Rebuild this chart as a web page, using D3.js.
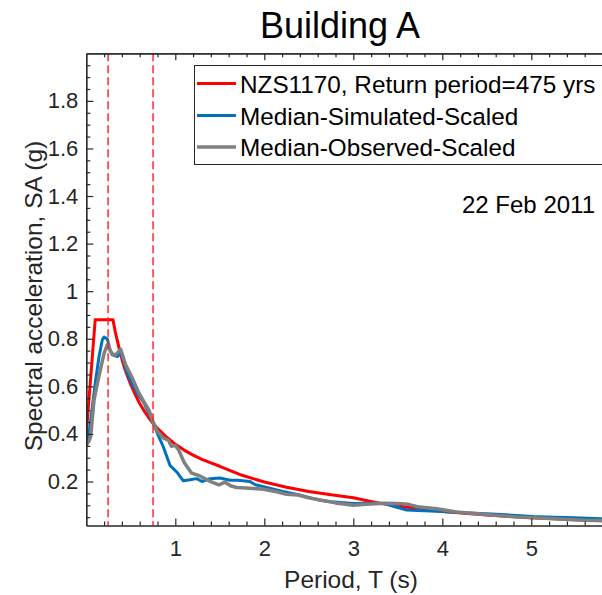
<!DOCTYPE html>
<html>
<head>
<meta charset="utf-8">
<script src="https://cdn.jsdelivr.net/npm/d3@7"></script>
<style>
  html, body { margin: 0; padding: 0; background: #fff; }
  svg { display: block; font-family: "Liberation Sans", Arial, Helvetica, sans-serif; }
</style>
</head>
<body>
<svg id="chart" width="602" height="595"></svg>
<script>
// ---- Data -------------------------------------------------------------
const chartTitle = "Building A";
const eventLabel = "22 Feb 2011";
const xLabel = "Period, T (s)";
const yLabel = "Spectral acceleration, SA (g)";

const xTicks = [1, 2, 3, 4, 5];
const yTicks = [0.2, 0.4, 0.6, 0.8, 1, 1.2, 1.4, 1.6, 1.8];

// Building fundamental periods (dashed markers)
const buildingPeriods = [0.245, 0.75];

// NZS1170 design spectrum, return period 475 yrs
const nzsPeriod = [0, 0.1, 0.3, 0.325, 0.35, 0.375, 0.4, 0.425, 0.45, 0.5, 0.55, 0.6, 0.65, 0.7, 0.75, 0.8, 0.9, 1.0, 1.1, 1.2, 1.3, 1.4, 1.5, 1.75, 2.0, 2.25, 2.5, 2.75, 3.0, 3.25, 3.5, 3.75, 4.0, 4.5, 5.0, 5.5, 6.0];
const nzsSA     = [0.40, 0.88, 0.88, 0.83, 0.79, 0.75, 0.715, 0.683, 0.655, 0.607, 0.565, 0.528, 0.497, 0.469, 0.445, 0.423, 0.387, 0.357, 0.332, 0.311, 0.293, 0.278, 0.264, 0.226, 0.198, 0.176, 0.158, 0.144, 0.132, 0.112, 0.097, 0.085, 0.074, 0.059, 0.048, 0.039, 0.033];

// Median of simulated records, scaled
const simPeriod = [0, 0.03, 0.068, 0.105, 0.143, 0.18, 0.2, 0.236, 0.262, 0.292, 0.348, 0.386, 0.424, 0.454, 0.528, 0.584, 0.64, 0.716, 0.746, 0.791, 0.865, 0.94, 1.016, 1.09, 1.165, 1.24, 1.3, 1.39, 1.5, 1.615, 1.7, 1.84, 1.9, 2.06, 2.21, 2.37, 2.51, 2.63, 2.75, 3.0, 3.15, 3.34, 3.45, 3.6, 3.79, 4.01, 4.3, 4.61, 5.02, 5.25, 5.4, 5.79, 6.0];
const simSA     = [0.353, 0.40, 0.514, 0.627, 0.725, 0.796, 0.807, 0.799, 0.76, 0.732, 0.725, 0.74, 0.704, 0.662, 0.60, 0.564, 0.535, 0.479, 0.451, 0.409, 0.346, 0.268, 0.24, 0.203, 0.207, 0.212, 0.20, 0.212, 0.215, 0.205, 0.205, 0.20, 0.186, 0.172, 0.158, 0.145, 0.132, 0.121, 0.115, 0.107, 0.109, 0.108, 0.096, 0.08, 0.077, 0.074, 0.068, 0.062, 0.053, 0.05, 0.049, 0.043, 0.041];

// Median of observed records, scaled
const obsPeriod = [0, 0.03, 0.049, 0.087, 0.143, 0.199, 0.236, 0.274, 0.30, 0.33, 0.36, 0.386, 0.443, 0.517, 0.592, 0.648, 0.704, 0.742, 0.80, 0.873, 0.921, 0.955, 1.0, 1.034, 1.1, 1.184, 1.259, 1.315, 1.405, 1.49, 1.558, 1.62, 1.69, 1.84, 1.99, 2.14, 2.25, 2.38, 2.51, 2.66, 2.8, 3.0, 3.15, 3.34, 3.5, 3.62, 3.72, 3.94, 4.16, 4.46, 4.84, 5.21, 5.59, 6.0];
const obsSA     = [0.353, 0.37, 0.39, 0.543, 0.645, 0.738, 0.775, 0.746, 0.735, 0.732, 0.745, 0.756, 0.69, 0.634, 0.571, 0.535, 0.50, 0.458, 0.409, 0.381, 0.374, 0.348, 0.352, 0.335, 0.28, 0.235, 0.226, 0.215, 0.198, 0.186, 0.197, 0.182, 0.175, 0.172, 0.167, 0.157, 0.146, 0.143, 0.13, 0.12, 0.11, 0.10, 0.104, 0.109, 0.108, 0.104, 0.094, 0.085, 0.072, 0.062, 0.051, 0.044, 0.037, 0.034];

const seriesNames  = ["NZS1170, Return period=475 yrs", "Median-Simulated-Scaled", "Median-Observed-Scaled"];
const seriesColors = ["#ff0000", "#0072bd", "#808080"];

// ---- Layout -----------------------------------------------------------
const svg = d3.select("#chart");
const plot = { left: 86.3, right: 611.4, top: 53.3, bottom: 525.5 };
const axisColor = "#262626";

const x = d3.scaleLinear().domain([0, 5.9]).range([plot.left, plot.right]);
const y = d3.scaleLinear().domain([0.015, 2]).range([plot.bottom, plot.top]);

const fmt = v => String(+v.toFixed(2));

// Clip region for the data lines
svg.append("defs").append("clipPath").attr("id", "plotClip")
  .append("rect")
  .attr("x", plot.left).attr("y", plot.top)
  .attr("width", plot.right - plot.left).attr("height", plot.bottom - plot.top);

// ---- Series -----------------------------------------------------------
const lines = svg.append("g").attr("clip-path", "url(#plotClip)");
const zip = (ps, vs) => ps.map((p, i) => [p, vs[i]]);

const lineGen = d3.line().x(d => x(d[0])).y(d => y(d[1]));

lines.append("path").datum(zip(nzsPeriod, nzsSA))
  .attr("d", lineGen).attr("fill", "none")
  .attr("stroke", seriesColors[0]).attr("stroke-width", 3).attr("stroke-linejoin", "round");

lines.append("path").datum(zip(simPeriod, simSA))
  .attr("d", lineGen).attr("fill", "none")
  .attr("stroke", seriesColors[1]).attr("stroke-width", 3).attr("stroke-linejoin", "round");

lines.append("path").datum(zip(obsPeriod, obsSA))
  .attr("d", lineGen).attr("fill", "none")
  .attr("stroke", seriesColors[2]).attr("stroke-width", 3.5).attr("stroke-linejoin", "round");

// Dashed period markers
lines.selectAll("line.period").data(buildingPeriods).join("line")
  .attr("class", "period")
  .attr("x1", d => x(d)).attr("x2", d => x(d))
  .attr("y1", plot.top).attr("y2", plot.bottom)
  .attr("stroke", "#ff2020").attr("stroke-opacity", 0.9)
  .attr("stroke-width", 1.6).attr("stroke-dasharray", "8,4");

// ---- Axes -------------------------------------------------------------
const xMinor = d3.range(0.2, 5.9, 0.2).filter(v => Math.abs(v - Math.round(v)) > 1e-6);
const yMinor = d3.range(0.05, 2.0, 0.05).filter(v => Math.abs(v * 5 - Math.round(v * 5)) > 1e-6);

function styleAxis(g) {
  g.select(".domain").attr("stroke", axisColor).attr("stroke-width", 1.2);
  g.selectAll(".tick line").attr("stroke", axisColor).attr("stroke-width", 1.2);
  g.selectAll(".tick text").attr("fill", axisColor).style("font-size", "22px");
}

// bottom
svg.append("g").attr("transform", `translate(0,${plot.bottom})`)
  .call(d3.axisBottom(x).tickValues(xMinor).tickSize(-4).tickSizeOuter(0).tickFormat(""))
  .call(styleAxis);
svg.append("g").attr("transform", `translate(0,${plot.bottom})`)
  .call(d3.axisBottom(x).tickValues(xTicks).tickSize(-7).tickSizeOuter(0).tickPadding(15).tickFormat(fmt))
  .call(styleAxis);

// top
svg.append("g").attr("transform", `translate(0,${plot.top})`)
  .call(d3.axisTop(x).tickValues(xMinor).tickSize(-4).tickSizeOuter(0).tickFormat(""))
  .call(styleAxis);
svg.append("g").attr("transform", `translate(0,${plot.top})`)
  .call(d3.axisTop(x).tickValues(xTicks).tickSize(-7).tickSizeOuter(0).tickFormat(""))
  .call(styleAxis);

// left
svg.append("g").attr("transform", `translate(${plot.left},0)`)
  .call(d3.axisLeft(y).tickValues(yMinor).tickSize(-4).tickSizeOuter(0).tickFormat(""))
  .call(styleAxis);
svg.append("g").attr("transform", `translate(${plot.left},0)`)
  .call(d3.axisLeft(y).tickValues(yTicks).tickSize(-7).tickSizeOuter(0).tickPadding(8).tickFormat(fmt))
  .call(styleAxis);

// right
svg.append("line")
  .attr("x1", plot.right).attr("x2", plot.right)
  .attr("y1", plot.top).attr("y2", plot.bottom)
  .attr("stroke", axisColor).attr("stroke-width", 1.2);

// ---- Labels -----------------------------------------------------------
svg.append("text")
  .attr("x", 340).attr("y", 38)
  .attr("text-anchor", "middle")
  .style("font-size", "36px").attr("fill", "#000")
  .text(chartTitle);

svg.append("text")
  .attr("x", 351).attr("y", 588)
  .attr("text-anchor", "middle")
  .style("font-size", "24.5px").attr("fill", axisColor)
  .text(xLabel);

svg.append("text")
  .attr("transform", "translate(42,296) rotate(-90)")
  .attr("text-anchor", "middle")
  .style("font-size", "24.5px").attr("fill", axisColor)
  .text(yLabel);

svg.append("text")
  .attr("x", 595).attr("y", 213)
  .attr("text-anchor", "end")
  .style("font-size", "24px").attr("fill", "#000")
  .text(eventLabel);

// ---- Legend -----------------------------------------------------------
const legend = svg.append("g");
legend.append("rect")
  .attr("x", 194.5).attr("y", 65.5)
  .attr("width", 420).attr("height", 99)
  .attr("fill", "#fff").attr("stroke", axisColor).attr("stroke-width", 1);

const rowY = [83.5, 115.5, 147];
seriesNames.forEach((name, i) => {
  legend.append("line")
    .attr("x1", 197).attr("x2", 236)
    .attr("y1", rowY[i]).attr("y2", rowY[i])
    .attr("stroke", seriesColors[i]).attr("stroke-width", i === 2 ? 3.5 : 3);
  legend.append("text")
    .attr("x", 240).attr("y", rowY[i] + 9)
    .style("font-size", "24.3px").attr("fill", "#000")
    .text(name);
});
</script>
</body>
</html>
